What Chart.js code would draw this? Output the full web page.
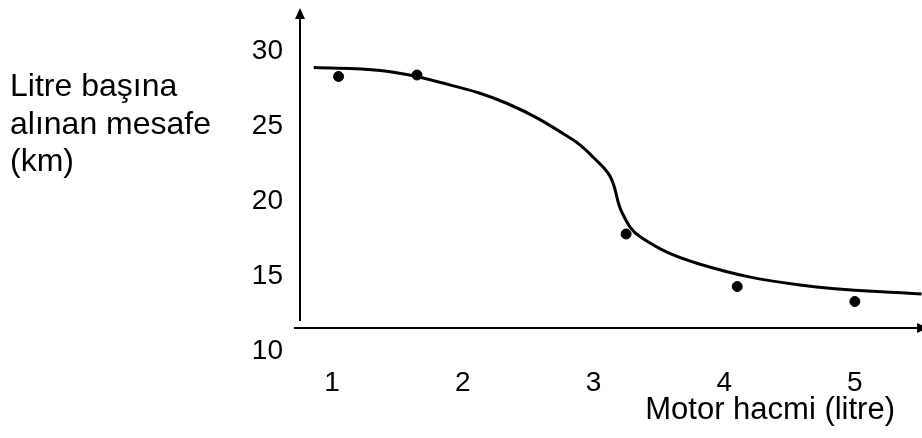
<!DOCTYPE html>
<html>
<head>
<meta charset="utf-8">
<script src="https://cdn.jsdelivr.net/npm/chart.js@4"></script>
<style>
  html, body { margin: 0; padding: 0; background: #fff; }
  #wrap { width: 922px; height: 438px; }
</style>
</head>
<body>
<div id="wrap"><canvas id="mesafe" width="922" height="438"></canvas></div>
<script>
// Olculen noktalar
const motorHacmi = [1.05, 1.65, 3.25, 4.1, 5.0];
const mesafe = [28.3, 28.4, 17.8, 14.3, 13.3];

// Egri (elle cizilmis uyum egrisi)
const egriX = [0.86, 1.37, 1.83, 2.34, 2.84, 3.0, 3.13, 3.22, 3.36, 3.81, 4.58, 5.51];
const egriY = [28.9, 28.7, 27.9, 26.5, 24.1, 22.9, 21.6, 19.2, 17.6, 15.8, 14.4, 13.8];

const xTicks = [1, 2, 3, 4, 5];
const yTicks = [10, 15, 20, 25, 30];
const yLabelLines = ["Litre başına", "alınan mesafe", "(km)"];
const xLabel = "Motor hacmi (litre)";

const FONT = "'Liberation Sans', Arial, Helvetica, sans-serif";

// axes with arrows, placed in data units
const axisArrows = {
  id: "axisArrows",
  afterDatasetsDraw(chart) {
    const { ctx, scales: { x, y } } = chart;
    const ax = x.getPixelForValue(0.755);
    const ay = y.getPixelForValue(11.53);
    ctx.save();
    ctx.strokeStyle = "#000";
    ctx.fillStyle = "#000";
    ctx.lineWidth = 2;
    // y axis
    const yTop = y.getPixelForValue(32.87);
    ctx.beginPath();
    ctx.moveTo(ax, y.getPixelForValue(12.0));
    ctx.lineTo(ax, yTop + 8);
    ctx.stroke();
    ctx.beginPath();
    ctx.moveTo(ax, yTop);
    ctx.lineTo(ax - 5, yTop + 11);
    ctx.lineTo(ax + 5, yTop + 11);
    ctx.closePath();
    ctx.fill();
    // x axis
    const xEnd = x.getPixelForValue(5.56);
    ctx.beginPath();
    ctx.moveTo(x.getPixelForValue(0.709), ay);
    ctx.lineTo(xEnd - 8, ay);
    ctx.stroke();
    ctx.beginPath();
    ctx.moveTo(xEnd, ay);
    ctx.lineTo(xEnd - 11, ay - 5);
    ctx.lineTo(xEnd - 11, ay + 5);
    ctx.closePath();
    ctx.fill();
    ctx.restore();
  }
};

// horizontal y-axis caption on the left
const yCaption = {
  id: "yCaption",
  afterDraw(chart) {
    const ctx = chart.ctx;
    ctx.save();
    ctx.fillStyle = "#000";
    ctx.font = "32px " + FONT;
    ctx.textAlign = "left";
    ctx.textBaseline = "alphabetic";
    yLabelLines.forEach((t, i) => ctx.fillText(t, 10, 96 + i * 37.5));
    ctx.restore();
  }
};

new Chart(document.getElementById("mesafe"), {
  type: "scatter",
  data: {
    datasets: [
      {
        type: "line",
        data: egriX.map((v, i) => ({ x: v, y: egriY[i] })),
        borderColor: "#000",
        borderWidth: 3,
        pointRadius: 0,
        fill: false,
        tension: 0.4,
        clip: false
      },
      {
        data: motorHacmi.map((v, i) => ({ x: v, y: mesafe[i] })),
        backgroundColor: "#000",
        borderColor: "#000",
        pointRadius: 5,
        pointHoverRadius: 5
      }
    ]
  },
  options: {
    responsive: false,
    animation: false,
    devicePixelRatio: 1,
    layout: { padding: { left: 0, right: 27, top: 6, bottom: 0 } },
    plugins: { legend: { display: false }, tooltip: { enabled: false } },
    scales: {
      x: {
        type: "linear",
        min: 0.709,
        max: 5.307,
        grid: { display: false, drawTicks: false },
        border: { display: false },
        afterBuildTicks: (s) => { s.ticks = xTicks.map((v) => ({ value: v })); },
        ticks: { color: "#000", padding: 0, font: { family: FONT, size: 28 } },
        title: {
          display: true,
          text: xLabel,
          align: "end",
          color: "#000",
          padding: { top: 0, bottom: 9 },
          font: { family: FONT, size: 31 }
        },
        afterFit: (s) => { s.height = 72; s.paddingLeft = 0; s.paddingRight = 0; }
      },
      y: {
        type: "linear",
        min: 9,
        max: 33,
        grid: { display: false, drawTicks: false },
        border: { display: false },
        afterBuildTicks: (s) => { s.ticks = yTicks.map((v) => ({ value: v })); },
        ticks: { color: "#000", padding: 11, font: { family: FONT, size: 28 } },
        afterFit: (s) => { s.width = 294; s.paddingTop = 0; s.paddingBottom = 0; }
      }
    }
  },
  plugins: [axisArrows, yCaption]
});
</script>
</body>
</html>
